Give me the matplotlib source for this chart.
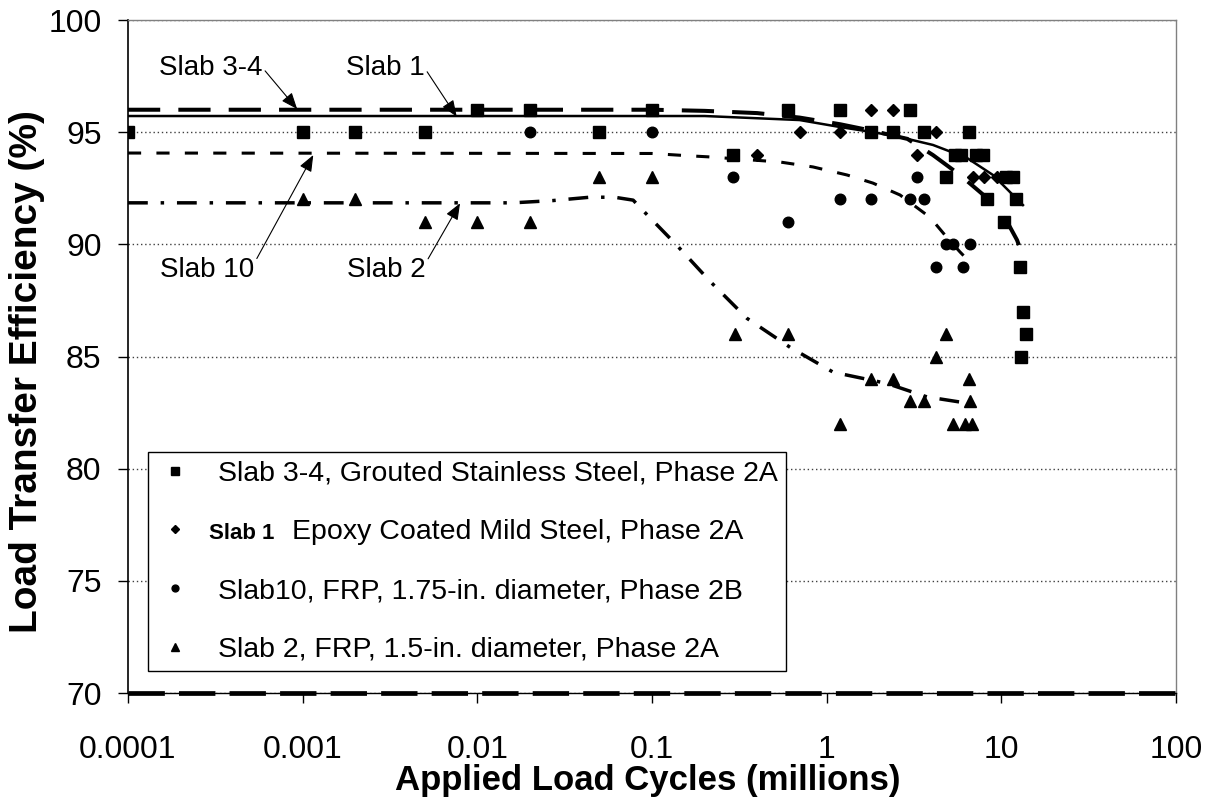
import matplotlib
matplotlib.use("Agg")
import matplotlib.pyplot as plt
from matplotlib.ticker import NullLocator
from matplotlib.transforms import IdentityTransform

plt.rcParams["font.family"] = ["Liberation Sans", "DejaVu Sans"]

# measured points (cycles in millions, LTE %)
slab34_x = [0.0001, 0.001, 0.002, 0.005, 0.01, 0.02, 0.05, 0.1, 0.29, 0.6, 1.19, 1.8, 2.4,
            3.0, 3.6, 4.8, 5.4, 5.9, 6.5, 7.2, 7.9, 8.3, 10.3, 10.7, 11.7, 12.2, 12.8,
            13.3, 13.8, 13.0]
slab34_y = [95, 95, 95, 95, 96, 96, 95, 96, 94, 96, 96, 95, 95,
            96, 95, 93, 94, 94, 95, 94, 94, 92, 91, 93, 93, 92, 89,
            87, 86, 85]

slab1_x = [0.4, 0.7, 1.2, 1.8, 2.4, 3.0, 3.3, 4.2, 6.9, 8.0, 9.4]
slab1_y = [94, 95, 95, 96, 96, 96, 94, 95, 93, 93, 93]

slab10_x = [0.02, 0.1, 0.29, 0.6, 1.2, 1.8, 3.0, 3.3, 3.6, 4.2, 4.8, 5.3, 6.0, 6.6]
slab10_y = [95, 95, 93, 91, 92, 92, 92, 93, 92, 89, 90, 90, 89, 90]

slab2_x = [0.001, 0.002, 0.005, 0.01, 0.02, 0.05, 0.1, 0.3, 0.6, 1.2, 1.8, 2.4, 3.0,
           3.6, 4.2, 4.8, 5.3, 6.2, 6.8, 6.5, 6.6]
slab2_y = [92, 92, 91, 91, 91, 93, 93, 86, 86, 82, 84, 84, 83,
           83, 85, 86, 82, 82, 82, 84, 83]

# trend lines
fit34_x = [0.0001, 0.1, 0.2, 0.4, 0.7, 1.2, 1.85, 2.9, 4.06, 5.8, 8.3, 10.8, 12.3, 13.7]
fit34_y = [96.0, 96.0, 95.95, 95.85, 95.65, 95.35, 95.05, 94.7, 93.98, 93.09, 92.06, 91.0, 90.19, 89.2]

fit1_x = [0.0001, 0.2, 0.7, 1.19, 1.84, 2.63, 4.06, 6.36, 8.96, 13.3]
fit1_y = [95.72, 95.72, 95.54, 95.23, 95.0, 94.78, 94.43, 93.85, 93.09, 91.75]

fit10_x = [0.0001, 0.1, 0.16, 0.21, 0.54, 0.835, 1.31, 1.84, 2.63, 3.91, 4.89, 5.8, 6.62]
fit10_y = [94.07, 94.05, 93.95, 93.9, 93.67, 93.45, 93.09, 92.73, 92.2, 91.2, 90.3, 89.66, 89.2]

fit2_x = [0.0001, 0.016, 0.027, 0.044, 0.061, 0.078, 0.089, 0.139, 0.215, 0.35, 0.62, 1.09,
          2.21, 3.75, 5.8]
fit2_y = [91.85, 91.85, 91.95, 92.1, 92.1, 91.97, 91.5, 89.95, 88.35, 86.7, 85.4, 84.3,
          83.8, 83.2, 82.97]

xtick_vals = [0.0001, 0.001, 0.01, 0.1, 1, 10, 100]
xtick_labels = ["0.0001", "0.001", "0.01", "0.1", "1", "10", "100"]
ytick_vals = [70, 75, 80, 85, 90, 95, 100]

labels = ["Slab 3-4, Grouted Stainless Steel, Phase 2A",
          "",
          "Slab10, FRP, 1.75-in. diameter, Phase 2B",
          "Slab 2, FRP, 1.5-in. diameter, Phase 2A"]
label2_bold = "Slab 1"
label2_rest = "Epoxy Coated Mild Steel, Phase 2A"

fig = plt.figure(figsize=(12.12, 8.01), dpi=100)
ax = fig.add_axes([128 / 1212, 108 / 801, 1048 / 1212, 673 / 801])

ax.set_xscale("log")
ax.set_xlim(0.0001, 100)
ax.set_ylim(70, 100)

# trend lines
ax.plot(fit34_x, fit34_y, color="black", lw=2.9, dashes=(8, 4.5), zorder=3)
ax.plot(fit1_x, fit1_y, color="black", lw=1.8, zorder=3)
ax.plot(fit10_x, fit10_y, color="black", lw=2.2, dashes=(4.3, 5), zorder=3)
ax.plot(fit2_x, fit2_y, color="black", lw=2.5, dashes=(5.7, 3.7, 1, 3.7), zorder=3)

# measured data
h1, = ax.plot(slab34_x, slab34_y, ls="none", marker="s", ms=8.4, color="black", zorder=4)
h2, = ax.plot(slab1_x, slab1_y, ls="none", marker="D", ms=6.3, color="black", zorder=4)
h3, = ax.plot(slab10_x, slab10_y, ls="none", marker="o", ms=7.6, color="black", zorder=4)
h4, = ax.plot(slab2_x, slab2_y, ls="none", marker="^", ms=8.5, color="black", zorder=4)

ax.axhline(70, color="black", lw=3.4, dashes=(7.7, 3), clip_on=False, zorder=5)

ax.set_xticks(xtick_vals)
ax.set_xticklabels(xtick_labels)
ax.xaxis.set_minor_locator(NullLocator())
ax.set_yticks(ytick_vals)
ax.tick_params(axis="x", direction="out", length=7, width=1, pad=23, labelsize=23)
ax.tick_params(axis="y", direction="out", length=7, width=1, pad=12, labelsize=23)

ax.yaxis.grid(True, color="#404040", lw=1, ls=(0, (1, 2)))
ax.set_axisbelow(True)

for side in ["top", "right"]:
    ax.spines[side].set_color("#808080")
    ax.spines[side].set_linewidth(1)
ax.spines["left"].set_linewidth(1.2)
ax.spines["bottom"].set_linewidth(1)

ax.set_xlabel("Applied Load Cycles (millions)", fontsize=25, fontweight="bold")
ax.set_ylabel("Load Transfer Efficiency (%)", fontsize=28, fontweight="bold")
ax.xaxis.set_label_coords(0.496, -0.106)
ax.yaxis.set_label_coords(-0.079, 0.478)

# annotations
arrow = dict(arrowstyle="-|>,head_length=0.5,head_width=0.2", color="black", lw=0.8,
             mutation_scale=20, shrinkA=0, shrinkB=0)
notes = [("Slab 3-4", (0.00093, 96.03), (0.000297, 97.88), (1, 0.5)),
         ("Slab 1", (0.00762, 95.69), (0.00296, 97.88), (1, 0.5)),
         ("Slab 10", (0.00115, 93.98), (0.000283, 88.85), (1, 0.75)),
         ("Slab 2", (0.00796, 91.83), (0.00300, 88.85), (1, 0.75))]
for txt, tip, pos, rp in notes:
    a = dict(arrow)
    a["relpos"] = rp
    ax.annotate(txt, xy=tip, xytext=pos, fontsize=20, ha="center", va="center",
                arrowprops=a, zorder=6)

leg = ax.legend([h1, h2, h3, h4], labels, loc="upper left", bbox_to_anchor=(0.019, 0.358),
                fontsize=20.5, frameon=True, fancybox=False, edgecolor="black",
                framealpha=1, borderaxespad=0, markerscale=0.65, handlelength=1.3,
                handletextpad=0.85, labelspacing=1.15, borderpad=0.3)
leg.get_frame().set_linewidth(1)
leg.set_zorder(7)

# second legend entry mixes a small bold name with normal text
fig.canvas.draw()
renderer = fig.canvas.get_renderer()
tx = leg.get_texts()
bb1 = tx[0].get_window_extent(renderer)
bb3 = tx[2].get_window_extent(renderer)
y_bottom = (bb1.y0 + bb3.y0) / 2
_, _, desc = renderer.get_text_width_height_descent("lp", tx[0].get_fontproperties(), ismath=False)
base = y_bottom + desc
fig.text(bb1.x0 - 9, base, label2_bold, transform=IdentityTransform(),
         fontsize=16, fontweight="bold", ha="left", va="baseline", zorder=8)
fig.text(bb1.x0 + 74, base, label2_rest, transform=IdentityTransform(),
         fontsize=20.5, ha="left", va="baseline", zorder=8)

fig.savefig("out.png", dpi=100)
